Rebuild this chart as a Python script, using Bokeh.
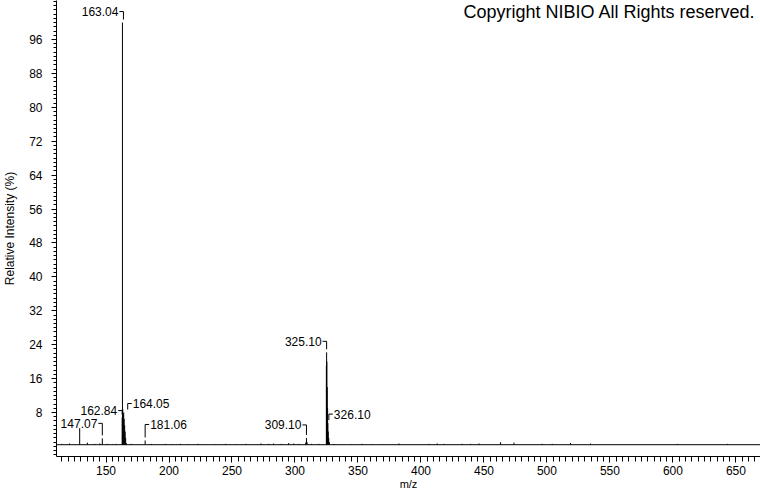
from bokeh.plotting import figure
from bokeh.models import ColumnDataSource, FixedTicker, Label, Range1d
from bokeh.core.properties import value
from bokeh.embed import file_html
from bokeh.resources import INLINE

# ---------------- data ----------------
scan_range = [100.0, 700.0]          # m/z extent of the acquired spectrum
noise_floor = 0.4                    # relative intensity of the baseline (%)

peak_mz = [115.0, 121.1, 129.1, 135.2, 141.0, 145.1, 147.07, 151.0, 155.1, 158.0,
           162.84, 163.04, 163.3, 163.6, 164.05, 164.4, 164.8, 165.2, 165.6, 166.1, 170.0,
           176.0, 181.06, 185.9, 191.0, 197.1, 203.0, 209.1, 215.0, 223.1, 229.0,
           237.1, 245.0, 253.1, 261.0, 267.1, 273.0, 279.1, 283.0, 289.1, 295.0,
           299.1, 303.0, 308.5, 309.10, 309.6, 313.1, 319.0, 324.9, 325.10, 325.3,
           325.6, 325.9, 326.10, 326.4, 326.8, 327.3, 331.0, 337.1, 345.0, 353.1, 361.0,
           369.1, 382.5, 406.3, 412.9, 418.2, 432.8, 439.4, 446.1, 463.2, 473.8,
           496.3, 504.2, 518.7, 534.6, 603.5, 643.2]
peak_int = [0.6, 0.7, 4.3, 0.9, 0.6, 0.7, 1.9, 0.6, 0.5, 0.6,
            6.8, 100.0, 8.8, 7.5, 8.0, 6.5, 5.0, 3.5, 2.0, 0.8, 0.6,
            0.5, 1.4, 0.6, 0.5, 0.6, 0.5, 0.6, 0.5, 0.6, 0.5,
            0.5, 0.6, 0.5, 0.6, 0.5, 0.7, 0.6, 0.7, 0.6, 0.8,
            0.7, 0.6, 0.9, 2.0, 1.0, 0.6, 0.6, 19.0, 22.2, 20.0,
            14.0, 9.0, 5.5, 3.5, 2.0, 1.0, 0.6, 0.5, 0.5, 0.6, 0.5,
            0.5, 0.7, 0.6, 0.7, 0.6, 0.6, 0.6, 0.7, 1.0, 0.9,
            0.6, 0.6, 0.8, 0.7, 0.6, 0.6]

label_mz = [163.04, 162.84, 164.05, 147.07, 181.06, 309.10, 325.10, 326.10]
label_side = ["L", "L", "R", "L", "R", "L", "L", "R"]

x_major = [150, 200, 250, 300, 350, 400, 450, 500, 550, 600, 650]
y_major = [8, 16, 24, 32, 40, 48, 56, 64, 72, 80, 88, 96]

# ---------------- layout (pixels) ----------------
label_dx = [1, 0, 4, 0, 0, 0, 0, 1]        # horizontal shift of each bracket
label_lift = [8, 4, 6, 12, 13, 10, 8, 6]   # bracket vertical length
bracket_gap = 3
bracket_h = 4

X0, X1 = 110.7, 669.5
Y0, Y1 = -2.38, 105.2
FW, FH = 704, 456

FONT = value("Liberation Sans")

p = figure(frame_width=FW, frame_height=FH, output_backend="svg", toolbar_location=None,
           x_range=Range1d(X0, X1), y_range=Range1d(Y0, Y1),
           min_border_left=53, min_border_right=3, min_border_top=0, min_border_bottom=36)
p.outline_line_color = None
p.xgrid.visible = False
p.ygrid.visible = False
p.background_fill_color = "white"
p.border_fill_color = "white"

kx = (X1 - X0) / FW
ky = (Y1 - Y0) / FH

# baseline
p.line(x=scan_range, y=[noise_floor, noise_floor], line_color="black", line_width=1)
# sticks
p.segment(x0=peak_mz, y0=[noise_floor] * len(peak_mz), x1=peak_mz, y1=peak_int,
          line_color="black", line_width=1)

# labels with brackets
xs, ys, tx, ty, tt, ta = [], [], [], [], [], []
for m, side, dx, lift in zip(label_mz, label_side, label_dx, label_lift):
    h = peak_int[peak_mz.index(m)]
    vx = m + dx * kx
    yb = h + bracket_gap * ky
    yt = h + (bracket_gap + lift) * ky
    sgn = -1 if side == "L" else 1
    hx = vx + sgn * bracket_h * kx
    xs.append([vx, vx, hx])
    ys.append([yb, yt, yt])
    tx.append(vx + sgn * (bracket_h + 1) * kx)
    ty.append(yt)
    tt.append(f"{m:.2f}")
    ta.append("right" if side == "L" else "left")

p.multi_line(xs=xs, ys=ys, line_color="black", line_width=1)
src = ColumnDataSource(dict(x=tx, y=ty, text=tt, align=ta))
p.text(x="x", y="y", text="text", text_align="align", source=src,
       text_baseline="middle", text_font=FONT, text_font_size="12px", text_color="black")

# copyright
p.add_layout(Label(x=X1, y=Y1, x_offset=-5, y_offset=-1, text="Copyright NIBIO All Rights reserved.",
                   text_align="right", text_baseline="top", text_font="Liberation Sans",
                   text_font_size="18px", text_color="black"))

# axes
p.xaxis.ticker = FixedTicker(ticks=x_major, minor_ticks=list(range(115, 670, 5)))
p.yaxis.ticker = FixedTicker(ticks=y_major, minor_ticks=list(range(-2, 106, 1)))
for ax in (p.xaxis[0], p.yaxis[0]):
    ax.axis_line_color = "black"
    ax.major_tick_line_color = "black"
    ax.minor_tick_line_color = "black"
    ax.major_tick_in = 0
    ax.minor_tick_in = 0
    ax.major_label_text_font = "Liberation Sans"
    ax.major_label_text_font_size = "12px"
    ax.major_label_text_color = "black"
    ax.axis_label_text_font = "Liberation Sans"
    ax.axis_label_text_font_size = "11px"
    ax.axis_label_text_font_style = "normal"
    ax.axis_label_text_color = "black"

p.xaxis.axis_label = "m/z"
p.xaxis.major_tick_out = 6
p.xaxis.minor_tick_out = 5
p.xaxis.major_label_standoff = 3
p.xaxis.axis_label_standoff = 0

p.yaxis.axis_label = "Relative Intensity (%)"
p.yaxis.axis_label_text_font_size = "12px"
p.yaxis.major_tick_out = 5
p.yaxis.minor_tick_out = 3
p.yaxis.major_label_standoff = 9
p.yaxis.axis_label_standoff = 9

open("out.html", "w").write(file_html(p, INLINE))
